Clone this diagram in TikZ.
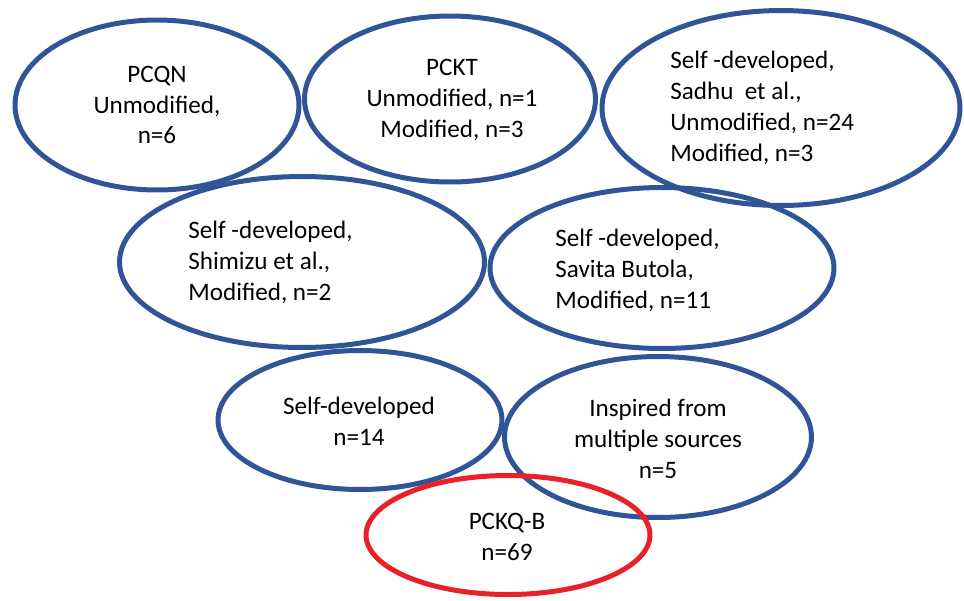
\documentclass[tikz,border=0pt]{standalone}
\usepackage{fontspec}
\setmainfont{Carlito}
\usetikzlibrary{shapes.geometric}
\definecolor{ovalblue}{RGB}{47,85,151}
\definecolor{ovalred}{RGB}{232,32,40}

\begin{document}
\begin{tikzpicture}[x=0.02cm, y=-0.02cm,
    oval/.style={ellipse, draw=ovalblue, line width=1mm, inner sep=0pt},
    txt/.style={inner sep=0pt, font=\fontsize{14.3}{17.6}\selectfont}]

    \useasboundingbox (0,0) rectangle (964,600);

    % ovals
    \node[oval, minimum width=5.68cm, minimum height=3.40cm] (pcqn) at (157,105) {};
    \node[oval, minimum width=5.82cm, minimum height=3.32cm] (pckt) at (450,99) {};
    \node[oval, minimum width=7.16cm, minimum height=3.90cm] (sadhu) at (781,108) {};
    \node[oval, minimum width=7.30cm, minimum height=3.42cm] (shimizu) at (302,262) {};
    \node[oval, minimum width=6.88cm, minimum height=3.22cm] (savita) at (662,268) {};
    \node[oval, minimum width=5.68cm, minimum height=2.78cm] (selfdev) at (360,420) {};
    \node[oval, minimum width=6.14cm, minimum height=3.22cm] (inspired) at (658,437) {};
    \node[oval, draw=ovalred, minimum width=5.68cm, minimum height=2.38cm] (pckqb) at (508,535) {};

    % labels
    \node[txt, align=center] (pcqn-t) at (pcqn.center) {PCQN\\Unmodified,\\n=6};
    \node[txt, align=center] (pckt-t) at (452,100) {PCKT\\Unmodified, n=1\\Modified, n=3};
    \node[txt, align=left, anchor=west] (sadhu-t) at (670,108) {Self -developed,\\Sadhu\ \ et al.,\\Unmodified, n=24\\Modified, n=3};
    \node[txt, align=left, anchor=west] (shimizu-t) at (188,262) {Self -developed,\\Shimizu et al.,\\Modified, n=2};
    \node[txt, align=left, anchor=west] (savita-t) at (555,270) {Self -developed,\\Savita Butola,\\Modified, n=11};
    \node[txt, align=center] (selfdev-t) at (359,421) {Self-developed\\n=14};
    \node[txt, align=center] (inspired-t) at (658,439) {Inspired from\\multiple sources\\n=5};
    \node[txt, align=center] (pckqb-t) at (507,537) {PCKQ-B\\n=69};

\end{tikzpicture}
\end{document}
